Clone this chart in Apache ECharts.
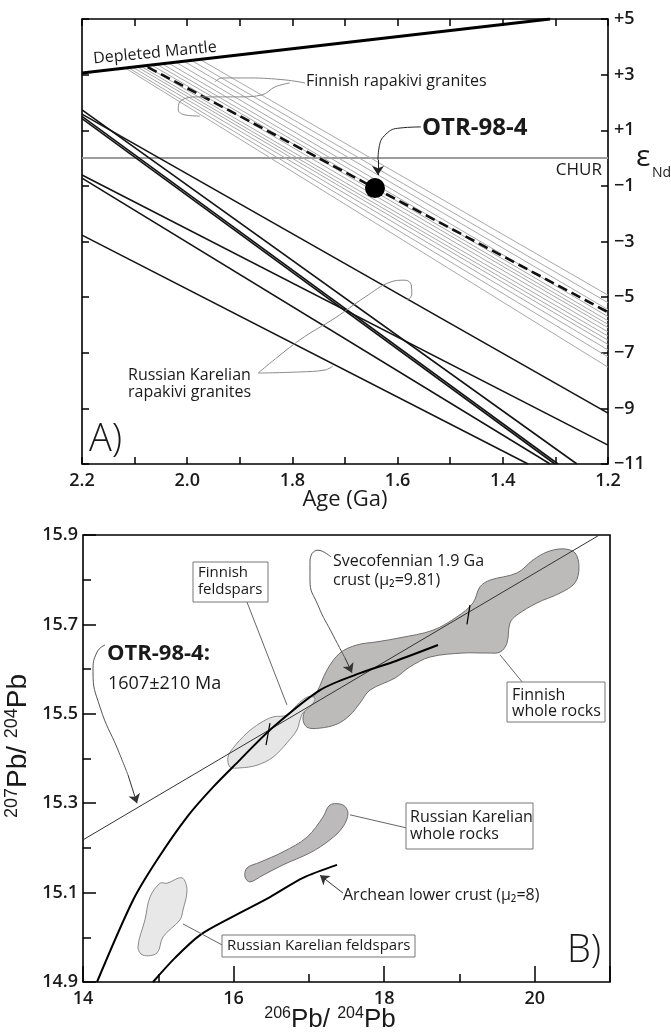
<!DOCTYPE html>
<html><head><meta charset="utf-8">
<script src="https://cdn.jsdelivr.net/npm/echarts@6/dist/echarts.min.js"></script>
<style>html,body{margin:0;padding:0;background:#fff}#c{width:671px;height:1034px}</style>
</head><body><div id="c"></div>
<script>
// ===== Panel A: εNd vs Age (Ga) =====
const dmAge = [2.2, 1.31];
const dmEps = [3.06, 5.0];
const churAge = [2.2, 1.2];
const churEps = [0, 0];
// Finnish rapakivi granites (grey lines), start on DM line, end at 1.2 Ga
const finnStartAge = [2.118, 2.112, 2.104, 2.096, 2.088, 2.080, 2.068, 2.058, 2.048, 2.036, 2.022, 2.006, 1.992, 1.976];
const finnStartEps = [3.24, 3.25, 3.27, 3.29, 3.30, 3.32, 3.35, 3.37, 3.39, 3.42, 3.45, 3.48, 3.51, 3.55];
const finnEndAge   = [1.2, 1.2, 1.2, 1.2, 1.2, 1.2, 1.2, 1.2, 1.2, 1.2, 1.2, 1.2, 1.2, 1.2];
const finnEndEps   = [-7.52, -7.15, -6.90, -6.70, -6.55, -6.40, -6.25, -6.10, -5.98, -5.85, -5.70, -5.45, -5.20, -4.93];
// OTR-98-4 evolution line (dashed) and sample point
const otrLineAge = [2.075, 1.2];
const otrLineEps = [3.27, -5.54];
const otrAge = [1.643];
const otrEps = [-1.08];
// Russian Karelian rapakivi granites (black lines)
const karStartAge = [2.2, 2.2, 2.2, 2.2, 2.2, 2.2, 2.2];
const karStartEps = [1.73, 1.58, 1.50, 1.42, -0.61, -0.72, -2.77];
const karEndAge   = [1.259, 1.2, 1.295, 1.301, 1.2, 1.310, 1.352];
const karEndEps   = [-11, -9.17, -11, -11, -10.32, -11, -11];
// annotation leader lines (data coords)
const finnLeadUpAge = [1.776, 1.814, 1.881, 1.934, 1.947];
const finnLeadUpEps = [2.70, 2.81, 2.88, 2.88, 2.74];
const finnLeadLoAge = [1.805, 1.833, 1.858, 1.900, 1.985, 2.014, 2.017, 2.004, 1.976];
const finnLeadLoEps = [2.70, 2.56, 2.27, 2.20, 2.20, 2.02, 1.73, 1.55, 1.51];
const otrLeadAge = [1.5555, 1.5954, 1.6221, 1.6354, 1.6373];
const otrLeadEps = [1.12, 1.08, 0.86, 0.36, -0.07];
const otrArrowTip = [1.6373, -0.61];
const karLead1Age = [1.865, 1.786, 1.738, 1.723];
const karLead1Eps = [-7.73, -7.69, -7.62, -7.48];
const karLead2Age = [1.865, 1.786, 1.719, 1.662, 1.614, 1.586, 1.574, 1.573, 1.582];
const karLead2Eps = [-7.73, -6.54, -5.75, -5.00, -4.46, -4.39, -4.56, -4.92, -5.10];

// ===== Panel B: 207Pb/204Pb vs 206Pb/204Pb =====
const isoX = [14, 20.86];
const isoY = [15.218, 15.9];
const sveX = [14.186, 14.664, 14.983, 15.381, 15.727, 16.085, 16.484, 17.148, 17.679, 18.117, 18.715];
const sveY = [14.900, 15.083, 15.173, 15.269, 15.336, 15.397, 15.464, 15.553, 15.591, 15.616, 15.654];
const archX = [14.930, 15.222, 15.554, 15.952, 16.484, 16.922, 17.374];
const archY = [14.900, 14.954, 15.005, 15.043, 15.090, 15.133, 15.162];
const fwrX = [17.108, 17.241, 17.413, 17.639, 17.905, 18.210, 18.649, 18.967, 19.180, 19.273, 19.406, 19.764, 19.977, 20.163, 20.375, 20.535, 20.588, 20.535, 20.335, 20.030, 19.764, 19.671, 19.631, 19.539, 19.366, 19.047, 18.609, 18.343, 18.144, 17.812, 17.679, 17.546, 17.374, 17.148, 16.975, 16.922, 16.988];
const fwrY = [15.549, 15.598, 15.636, 15.654, 15.661, 15.670, 15.687, 15.717, 15.748, 15.784, 15.799, 15.815, 15.844, 15.862, 15.869, 15.860, 15.828, 15.793, 15.770, 15.748, 15.721, 15.703, 15.658, 15.638, 15.636, 15.636, 15.627, 15.605, 15.580, 15.553, 15.524, 15.497, 15.477, 15.468, 15.470, 15.491, 15.520];
const ffX = [15.992, 16.178, 16.351, 16.523, 16.709, 16.842, 16.988, 17.081, 17.041, 16.922, 16.882, 16.842, 16.709, 16.523, 16.311, 16.085, 15.952, 15.926];
const ffY = [15.423, 15.457, 15.479, 15.493, 15.497, 15.520, 15.538, 15.535, 15.520, 15.502, 15.486, 15.464, 15.435, 15.403, 15.385, 15.379, 15.381, 15.403];
const rwrX = [17.281, 17.453, 17.520, 17.453, 17.281, 17.015, 16.656, 16.391, 16.218, 16.152, 16.178, 16.351, 16.656, 16.975, 17.188];
const rwrY = [15.296, 15.296, 15.278, 15.247, 15.218, 15.189, 15.162, 15.139, 15.124, 15.135, 15.155, 15.168, 15.191, 15.224, 15.269];
const rfX = [15.116, 15.315, 15.381, 15.328, 15.288, 15.063, 14.983, 14.797, 14.730, 14.823, 14.890, 15.023];
const rfY = [15.121, 15.133, 15.106, 15.061, 15.039, 15.001, 14.965, 14.960, 14.978, 15.039, 15.090, 15.121];
const isoMark1X = [16.484, 16.431]; const isoMark1Y = [15.479, 15.430];
const isoMark2X = [19.140, 19.100]; const isoMark2Y = [15.743, 15.700];
// leaders (data coords)
const ffLeadX = [16.178, 16.709]; const ffLeadY = [15.750, 15.520];
const sveLeadX = [17.294, 17.121, 17.015, 17.015, 17.121, 17.321, 17.480];
const sveLeadY = [15.851, 15.866, 15.840, 15.799, 15.743, 15.676, 15.625];
const sveArrowTip = [17.573, 15.592];
const otrBLeadX = [14.292, 14.186, 14.133, 14.226, 14.465, 14.598];
const otrBLeadY = [15.654, 15.638, 15.594, 15.515, 15.419, 15.363];
const otrBArrowTip = [14.717, 15.300];
const fwrLeadX = [19.844, 19.539]; const fwrLeadY = [15.569, 15.632];
const rwrLeadX = [18.290, 17.546]; const rwrLeadY = [15.245, 15.274];
const archArrowFrom = [17.453, 15.099]; const archArrowTip = [17.148, 15.139];
const rfLeadX = [15.846, 15.328]; const rfLeadY = [14.983, 15.030];

const FONT = '"Open Sans", "DejaVu Sans", sans-serif';
const INK = '#1a1a1a';

function pts(xs, ys) { return xs.map((x, i) => [x, ys[i]]); }
function line(xi, yi, xs, ys, color, width, extra) {
  return Object.assign({
    type: 'line', xAxisIndex: xi, yAxisIndex: yi, data: pts(xs, ys),
    showSymbol: false, symbol: 'none', silent: true, animation: false,
    lineStyle: { color: color, width: width }, z: 3
  }, extra || {});
}
function arrow(xi, yi, from, to, color) {
  return {
    type: 'lines', coordinateSystem: 'cartesian2d', xAxisIndex: xi, yAxisIndex: yi,
    silent: true, animation: false, symbol: ['none', 'arrow'], symbolSize: 9,
    lineStyle: { color: color, width: 1, opacity: 1, curveness: 0 },
    data: [{ coords: [from, to] }], z: 6
  };
}
function poly(xs, ys, fill, stroke) {
  return {
    type: 'custom', xAxisIndex: 2, yAxisIndex: 2, data: [[xs[0], ys[0]]],
    silent: true, animation: false, z: 1,
    renderItem: function (params, api) {
      return {
        type: 'polygon',
        shape: { points: xs.map((x, i) => api.coord([x, ys[i]])), smooth: 0.35 },
        style: { fill: fill, stroke: stroke, lineWidth: 1 }
      };
    }
  };
}
function txt(x, y, text, size, o) {
  o = o || {};
  return {
    type: 'text', x: x, y: y, rotation: o.rot || 0, z: 100,
    style: {
      text: text, fontSize: size, fontFamily: o.ff || FONT, fontWeight: o.fw || 'normal',
      fill: o.fill || INK, align: o.align || 'left', verticalAlign: 'middle', rich: o.rich
    }
  };
}
function box(x, y, w, h) {
  return { type: 'rect', z: 90, shape: { x: x, y: y, width: w, height: h },
    style: { fill: '#fff', stroke: '#777', lineWidth: 1 } };
}

const series = [];
// Panel A
series.push(line(0, 0, churAge, churEps, '#9c9c9c', 2, { z: 2 }));
for (let i = 0; i < finnStartAge.length; i++) {
  series.push(line(0, 0, [finnStartAge[i], finnEndAge[i]], [finnStartEps[i], finnEndEps[i]], '#a9a9a9', 1, { z: 2 }));
}
for (let i = 0; i < karStartAge.length; i++) {
  series.push(line(0, 0, [karStartAge[i], karEndAge[i]], [karStartEps[i], karEndEps[i]], '#141414', 1.6));
}
series.push(line(0, 0, dmAge, dmEps, '#000', 3));
series.push(line(0, 0, otrLineAge, otrLineEps, '#111', 2.6, { lineStyle: { color: '#111', width: 2.6, type: [10, 5] } }));
series.push({ type: 'scatter', xAxisIndex: 0, yAxisIndex: 0, data: pts(otrAge, otrEps), symbolSize: 20,
  itemStyle: { color: '#000', opacity: 1 }, silent: true, animation: false, z: 8 });
series.push(line(0, 0, finnLeadUpAge, finnLeadUpEps, '#8a8a8a', 1, { smooth: 0.4 }));
series.push(line(0, 0, finnLeadLoAge, finnLeadLoEps, '#8a8a8a', 1, { smooth: 0.4 }));
series.push(line(0, 0, otrLeadAge, otrLeadEps, '#222', 1, { smooth: 0.5 }));
series.push(arrow(0, 0, [otrLeadAge[4], otrLeadEps[4]], otrArrowTip, '#222'));
series.push(line(0, 0, karLead1Age, karLead1Eps, '#8a8a8a', 1, { smooth: 0.4 }));
series.push(line(0, 0, karLead2Age, karLead2Eps, '#8a8a8a', 1, { smooth: 0.4 }));
// Panel B
series.push(poly(fwrX, fwrY, '#bdbaba', '#6f6f6f'));
series.push(poly(ffX, ffY, '#e6e6e6', '#8a8a8a'));
series.push(poly(rwrX, rwrY, '#bcbaba', '#6f6f6f'));
series.push(poly(rfX, rfY, '#e8e8e8', '#8a8a8a'));
series.push(line(2, 2, isoX, isoY, '#333', 1));
series.push(line(2, 2, sveX, sveY, '#000', 2, { smooth: 0.3 }));
series.push(line(2, 2, archX, archY, '#000', 2, { smooth: 0.3 }));
series.push(line(2, 2, isoMark1X, isoMark1Y, '#000', 1.2));
series.push(line(2, 2, isoMark2X, isoMark2Y, '#000', 1.2));
series.push(line(2, 2, ffLeadX, ffLeadY, '#666', 1));
series.push(line(2, 2, sveLeadX, sveLeadY, '#555', 1, { smooth: 0.5 }));
series.push(arrow(2, 2, [sveLeadX[6], sveLeadY[6]], sveArrowTip, '#333'));
series.push(line(2, 2, otrBLeadX, otrBLeadY, '#555', 1, { smooth: 0.5 }));
series.push(arrow(2, 2, [otrBLeadX[5], otrBLeadY[5]], otrBArrowTip, '#333'));
series.push(line(2, 2, fwrLeadX, fwrLeadY, '#666', 1));
series.push(line(2, 2, rwrLeadX, rwrLeadY, '#666', 1));
series.push(arrow(2, 2, archArrowFrom, archArrowTip, '#333'));
series.push(line(2, 2, rfLeadX, rfLeadY, '#666', 1));

const tickStyle = { color: '#000', width: 1.5 };
const lblA = { fontSize: 18, fontWeight: 600, fontFamily: FONT, color: INK };
const noLine = { show: false, onZero: false };

const option = {
  animation: false,
  backgroundColor: '#fff',
  grid: [
    { left: 82, top: 19, width: 526, height: 445, show: true, borderColor: '#000', borderWidth: 1.6, backgroundColor: 'transparent' },
    { left: 83, top: 535, width: 527, height: 447, show: true, borderColor: '#000', borderWidth: 1.6, backgroundColor: 'transparent' }
  ],
  xAxis: [
    { type: 'value', gridIndex: 0, position: 'bottom', min: 1.2, max: 2.2, inverse: true, interval: 0.2,
      axisLine: noLine, splitLine: { show: false },
      axisTick: { inside: true, length: 7, lineStyle: tickStyle },
      minorTick: { show: true, splitNumber: 2, length: 7, lineStyle: tickStyle },
      axisLabel: Object.assign({ margin: 8, formatter: v => v.toFixed(1) }, lblA) },
    { type: 'value', gridIndex: 0, position: 'top', min: 1.2, max: 2.2, inverse: true, interval: 0.1,
      axisLine: noLine, splitLine: { show: false }, axisLabel: { show: false },
      axisTick: { inside: true, length: 7, lineStyle: tickStyle } },
    { type: 'value', gridIndex: 1, position: 'bottom', min: 14, max: 21, interval: 1,
      axisLine: noLine, splitLine: { show: false },
      axisTick: { inside: true, length: 8, lineStyle: tickStyle },
      axisLabel: Object.assign({ margin: 8, formatter: v => (v % 2 === 0 ? String(v) : '') }, lblA) },
    { type: 'value', gridIndex: 1, position: 'top', offset: -447, min: 14, max: 21, interval: 2,
      axisLine: noLine, splitLine: { show: false }, axisLabel: { show: false },
      axisTick: { inside: false, length: 16, lineStyle: tickStyle } }
  ],
  yAxis: [
    { type: 'value', gridIndex: 0, position: 'right', min: -11, max: 5, interval: 2,
      axisLine: noLine, splitLine: { show: false },
      axisTick: { inside: true, length: 7, lineStyle: tickStyle },
      axisLabel: Object.assign({ margin: 6, formatter: v => (v > 0 ? '+' + v : '\u2212' + Math.abs(v)) }, lblA) },
    { type: 'value', gridIndex: 0, position: 'left', min: -11, max: 5, interval: 2,
      axisLine: noLine, splitLine: { show: false }, axisLabel: { show: false },
      axisTick: { inside: true, length: 7, lineStyle: tickStyle } },
    { type: 'value', gridIndex: 1, position: 'left', min: 14.9, max: 15.9, interval: 0.2,
      axisLine: noLine, splitLine: { show: false },
      axisTick: { inside: true, length: 13, lineStyle: tickStyle },
      minorTick: { show: true, splitNumber: 2, length: 8, lineStyle: tickStyle },
      axisLabel: Object.assign({ margin: 5, formatter: v => v.toFixed(1) }, lblA) }
  ],
  series: series,
  graphic: [
    // Panel A texts
    txt(155, 53, 'Depleted Mantle', 16, { align: 'center', rot: 0.096 }),
    txt(306, 81, 'Finnish rapakivi granites', 16),
    txt(422, 128, 'OTR-98-4', 24, { fw: 'bold' }),
    txt(602, 170, 'CHUR', 17, { align: 'right' }),
    txt(636, 157, '\u03b5', 30),
    txt(652, 173, 'Nd', 14),
    txt(128, 375, 'Russian Karelian', 16),
    txt(128, 392, 'rapakivi granites', 16),
    txt(89, 440, 'A)', 38, { fw: 300 }),
    txt(345, 500, 'Age (Ga)', 22, { align: 'center' }),
    // Panel B texts and boxes
    box(193, 562, 75, 40),
    txt(198, 573, 'Finnish', 15),
    txt(198, 590, 'feldspars', 15),
    txt(333, 561, 'Svecofennian 1.9 Ga', 16),
    txt(333, 580, 'crust (\u03bc\u2082=9.81)', 16),
    txt(107, 654, 'OTR-98-4:', 22, { fw: 'bold' }),
    txt(108, 684, '1607\u00b1210 Ma', 18),
    box(507, 682, 98, 40),
    txt(512, 695, 'Finnish', 16),
    txt(512, 711, 'whole rocks', 16),
    box(406, 803, 127, 46),
    txt(410, 817, 'Russian Karelian', 16),
    txt(410, 834, 'whole rocks', 16),
    txt(343, 895, 'Archean lower crust (\u03bc\u2082=8)', 16),
    box(222, 935, 193, 22),
    txt(227, 946, 'Russian Karelian feldspars', 15),
    txt(567, 951, 'B)', 38, { fw: 300 }),
    txt(330, 1020, '{s|206}{b|Pb/ }{s|204}{b|Pb}', 26, { align: 'center', rich: {
      s: { fontSize: 16, fontFamily: 'Liberation Sans', verticalAlign: 'top', lineHeight: 28, fill: INK },
      b: { fontSize: 26, fontFamily: 'Liberation Sans', lineHeight: 28, fill: INK } } }),
    txt(18, 746, '{s|207}{b|Pb/ }{s|204}{b|Pb}', 28, { align: 'center', rot: Math.PI / 2, rich: {
      s: { fontSize: 18, fontFamily: 'Liberation Sans', verticalAlign: 'top', lineHeight: 30, fill: INK },
      b: { fontSize: 28, fontFamily: 'Liberation Sans', lineHeight: 30, fill: INK } } })
  ]
};
const chart = echarts.init(document.getElementById('c'), null, { renderer: 'canvas' });
chart.setOption(option);
</script>
</body></html>
